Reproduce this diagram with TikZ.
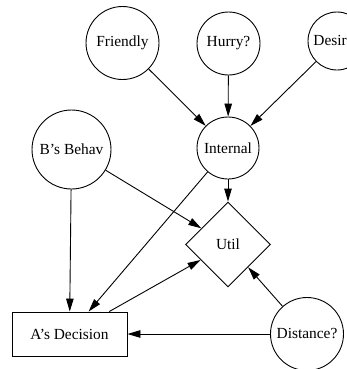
\documentclass[tikz,border=0pt]{standalone}
\usepackage{fontspec}
\setmainfont{Liberation Serif}
\usetikzlibrary{shapes.geometric,arrows.meta}
\begin{document}
\begin{tikzpicture}[x=1bp,y=-1bp,
  every node/.style={font=\fontsize{15.4bp}{18bp}\selectfont, line width=0.9bp},
  cnode/.style={draw, circle, inner sep=0pt},
  arr/.style={-{Triangle[length=13bp,width=7.5bp]}, line width=0.9bp}]
\useasboundingbox (0,0) rectangle (347,369);
\node[cnode, minimum size=73bp] (fr) at (122.5,43) {Friendly};
\node[cnode, minimum size=63bp] (hu) at (228.5,43.5) {Hurry?};
\node[cnode, minimum size=58bp] (de) at (337,41) {Desire?};
\node[cnode, minimum size=79bp] (bb) at (71.5,149.5) {B’s Behav};
\node[cnode, minimum size=62bp] (in) at (228,148) {Internal};
\node[draw, diamond, inner sep=0pt, minimum width=85bp, minimum height=85bp] (ut) at (228,244.5) {Util};
\node[draw, rectangle, inner sep=0pt, minimum width=115bp, minimum height=44bp] (ad) at (69.5,334) {A’s Decision};
\node[cnode, minimum size=73bp] (di) at (307,334) {Distance?};
\draw[arr] (fr) -- (in);
\draw[arr] (hu) -- (in);
\draw[arr] (de) -- (in);
\draw[arr] (in) -- (ut);
\draw[arr] (in) -- (ad);
\draw[arr] (bb) -- (ut);
\draw[arr] (bb) -- (ad);
\draw[arr] (ad) -- (ut);
\draw[arr] (di) -- (ut);
\draw[arr] (di) -- (ad);
\end{tikzpicture}
\end{document}
